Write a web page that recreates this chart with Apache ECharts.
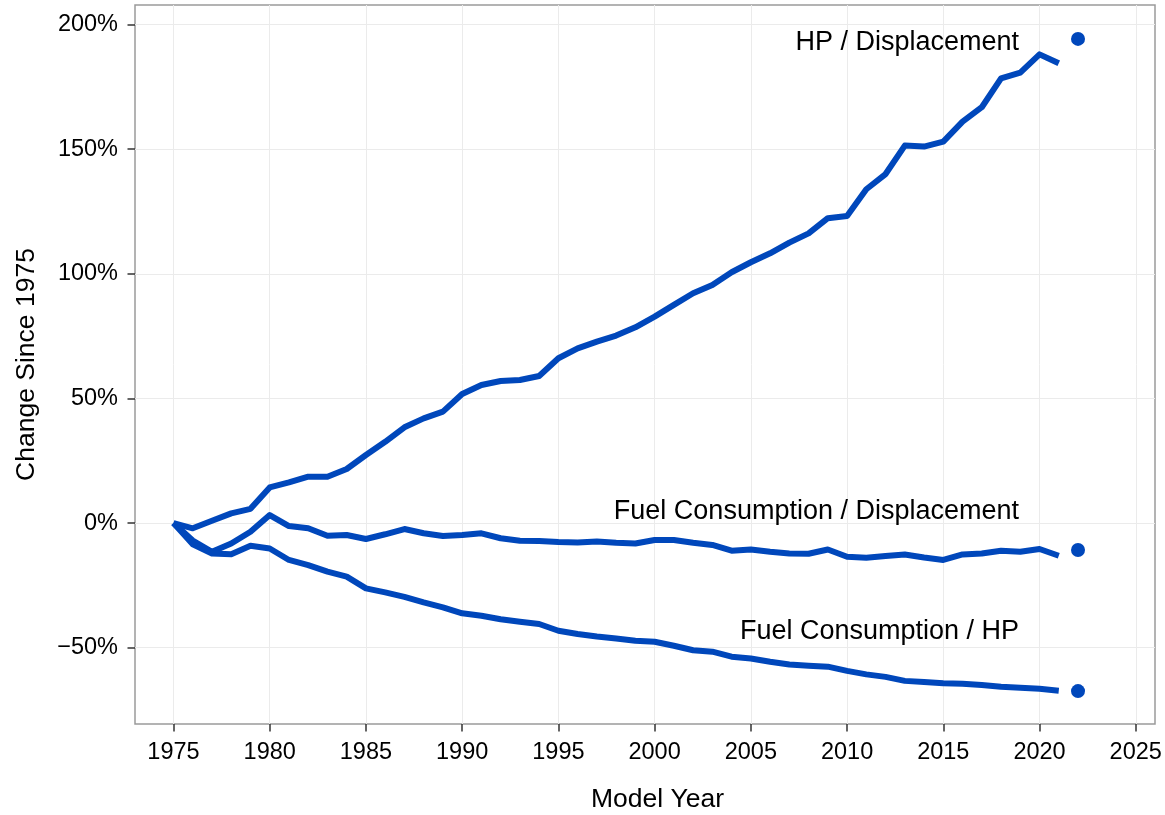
<!DOCTYPE html>
<html>
<head>
<meta charset="utf-8">
<script src="https://cdn.jsdelivr.net/npm/echarts@6/dist/echarts.min.js"></script>
<style>
    html, body { margin: 0; padding: 0; background: #fff; }
    #main { width: 1165px; height: 815px; }
</style>
</head>
<body>
<div id="main"></div>
<script>
let years = [];
for (let y = 1975; y <= 2021; y = y + 1) {
    years.push(y);
}

let xTicks = [1975, 1980, 1985, 1990, 1995, 2000, 2005, 2010, 2015, 2020, 2025];
let yTicks = [-50, 0, 50, 100, 150, 200];

let seriesNames = ['HP / Displacement', 'Fuel Consumption / Displacement', 'Fuel Consumption / HP'];

let hpDisp = [0, -2.1, 0.9, 3.9, 5.7, 14.3, 16.3, 18.6, 18.6, 21.7,
    27.3, 32.6, 38.4, 42.0, 44.7, 51.8, 55.4, 57.0, 57.4, 59.0,
    66.1, 70.1, 72.8, 75.2, 78.5, 82.8, 87.5, 92.2, 95.5, 100.6,
    104.6, 108.2, 112.5, 116.2, 122.3, 123.2, 133.9, 140.0, 151.4, 151.0,
    153.0, 161.0, 166.8, 178.4, 180.7, 188.0, 184.4];

let fcDisp = [0, -7.0, -11.5, -8.2, -3.5, 3.2, -1.2, -2.1, -5.1, -4.8,
    -6.4, -4.5, -2.4, -4.1, -5.2, -4.8, -4.1, -6.1, -7.1, -7.2,
    -7.6, -7.8, -7.4, -7.9, -8.2, -6.8, -6.8, -7.9, -8.8, -11.1,
    -10.6, -11.5, -12.2, -12.3, -10.6, -13.5, -13.9, -13.2, -12.6, -13.8,
    -14.8, -12.6, -12.2, -11.1, -11.5, -10.4, -13.1];

let fcHp = [0, -8.5, -12.2, -12.5, -9.1, -10.2, -14.8, -16.9, -19.5, -21.5,
    -26.2, -27.8, -29.6, -31.8, -33.8, -36.2, -37.2, -38.6, -39.6, -40.5,
    -43.2, -44.5, -45.5, -46.3, -47.2, -47.6, -49.2, -51.0, -51.6, -53.6,
    -54.3, -55.6, -56.7, -57.2, -57.6, -59.3, -60.7, -61.7, -63.3, -63.8,
    -64.3, -64.5, -65.0, -65.7, -66.1, -66.5, -67.3];

// 2022 preliminary values, shown as dots
let dotYear = 2022;
let dotValues = [194.2, -10.8, -67.4];

function pairs(vals) {
    let out = [];
    for (let i = 0; i < vals.length; i = i + 1) {
        out.push([years[i], vals[i]]);
    }
    return out;
}

function drawChart() {
    var myChart = echarts.init(document.getElementById('main'));
    var blue = '#0047bb';
    var font = "'Liberation Sans', Arial, sans-serif";
    var labelOffsets = [[-47, 4], [-47, -38], [-47, -60]];

    var lineSeries = [hpDisp, fcDisp, fcHp].map(function (vals, i) {
        return {
            name: seriesNames[i],
            type: 'line',
            data: pairs(vals),
            showSymbol: false,
            symbol: 'none',
            lineStyle: { color: blue, width: 6, join: 'round' },
            z: 3
        };
    });

    var dotData = dotValues.map(function (v, i) {
        return {
            value: [dotYear, v],
            label: {
                show: true,
                position: 'left',
                offset: labelOffsets[i],
                formatter: seriesNames[i],
                fontSize: 27,
                fontFamily: font,
                color: '#000'
            }
        };
    });

    var option = {
        animation: false,
        backgroundColor: '#fff',
        grid: {
            left: 135,
            right: 10,
            top: 5,
            bottom: 91,
            containLabel: false,
            outerBoundsMode: 'none',
            show: true,
            borderColor: '#9a9a9a',
            borderWidth: 1.5,
            backgroundColor: 'transparent'
        },
        xAxis: {
            type: 'value',
            min: 1973,
            max: 2026,
            name: 'Model Year',
            nameLocation: 'middle',
            nameGap: 62,
            nameTextStyle: { fontSize: 26.5, fontFamily: font, color: '#000', padding: [0, 0, 0, 25] },
            axisLine: { show: false, onZero: false },
            axisTick: { show: true, customValues: xTicks, length: 7.5, lineStyle: { color: '#333', width: 1.5 } },
            axisLabel: {
                customValues: xTicks,
                margin: 17,
                fontSize: 23.5,
                fontFamily: font,
                color: '#000',
                formatter: function (v) { return String(v); }
            },
            splitLine: { show: true, lineStyle: { color: '#ebebeb', width: 1 } }
        },
        yAxis: {
            type: 'value',
            min: -80.6,
            max: 207.8,
            name: 'Change Since 1975',
            nameLocation: 'middle',
            nameGap: 95,
            nameTextStyle: { fontSize: 26.5, fontFamily: font, color: '#000' },
            axisLine: { show: false, onZero: false },
            axisTick: { show: true, customValues: yTicks, length: 7.5, lineStyle: { color: '#333', width: 1.5 } },
            axisLabel: {
                customValues: yTicks,
                margin: 17,
                fontSize: 23.5,
                fontFamily: font,
                color: '#000',
                formatter: function (v) {
                    return (v < 0 ? '\u2212' + Math.abs(v) : String(v)) + '%';
                }
            },
            splitLine: { show: true, lineStyle: { color: '#ebebeb', width: 1 } }
        },
        series: lineSeries.concat([{
            type: 'scatter',
            data: dotData,
            symbolSize: 14,
            itemStyle: { color: blue, opacity: 1 },
            z: 4
        }])
    };

    myChart.setOption(option);
}

drawChart();
</script>
</body>
</html>
